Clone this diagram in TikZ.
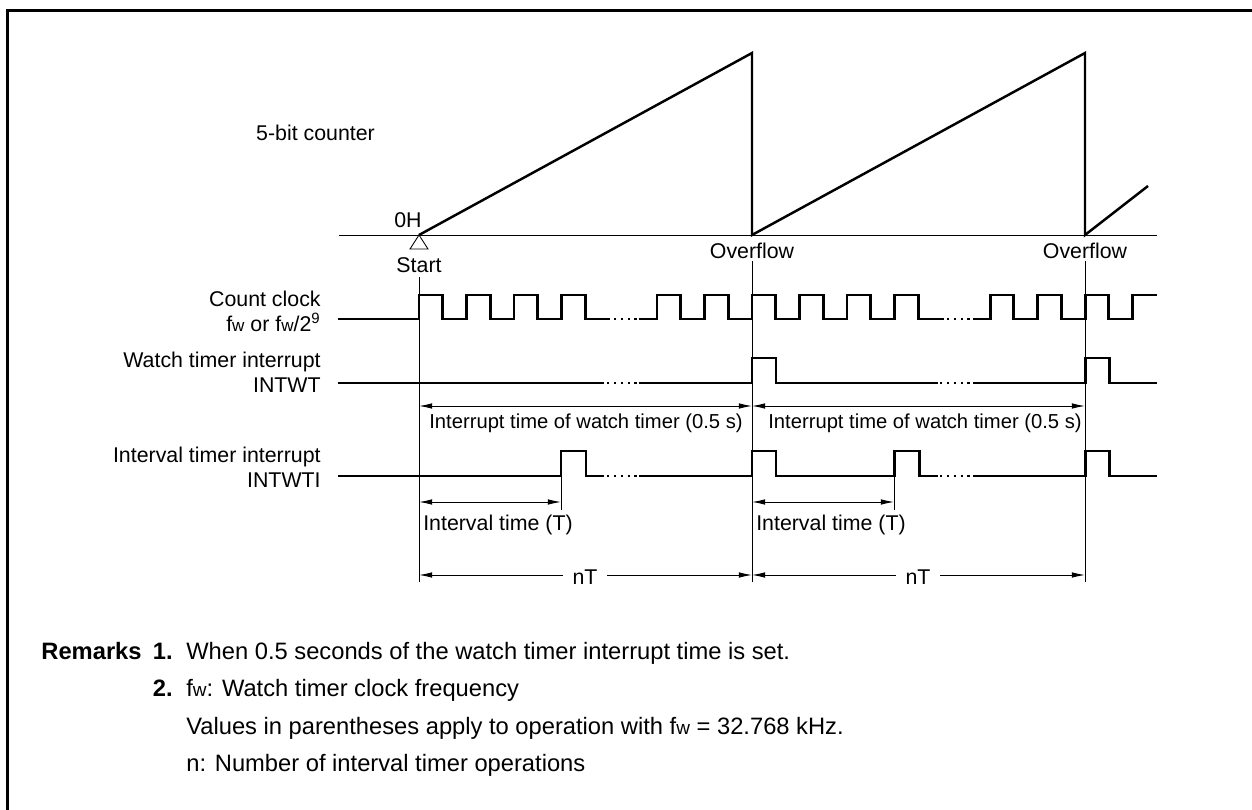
\documentclass[tikz,border=0pt]{standalone}
\usepackage{fontspec}
\usepackage{graphicx}
\setmainfont{Liberation Sans}
\usetikzlibrary{
	arrows.meta,
	positioning
}
\newcommand{\fw}{f\scalebox{0.8}{w}}

\tikzset{
	wave/.style={line width=1.7pt,line cap=rect},
	ramp/.style={line width=1.4pt},
	thin line/.style={line width=0.55pt},
	dim/.style={line width=0.55pt,{Latex[length=7.5pt,width=3.2pt]}-{Latex[length=7.5pt,width=3.2pt]}},
	dotline/.style={line width=1.1pt,dash pattern=on 1.3pt off 2.6pt},
	lbl/.style={inner sep=0pt,font=\fontsize{12.15pt}{14.2pt}\selectfont},
	narrow/.style={lbl,font=\fontsize{11.5pt}{14.2pt}\selectfont},
	sig/.style={lbl,align=right,anchor=east},
	remark/.style={inner sep=0pt,font=\fontsize{13.5pt}{16pt}\selectfont}
}

\begin{document}
\begin{tikzpicture}[x=0.02cm,y=-0.02cm]
		\useasboundingbox (0,0) rectangle (1252,810);
		
		% frame
		\draw[line width=1.7pt] (7.5,810) -- (7.5,10.5) -- (1252,10.5);
		
		% time marks
		\coordinate (st) at (419,235);
		\coordinate (of1) at (752,235);
		\coordinate (of2) at (1085,235);
		
		% counter
		\draw[thin line] (339,235) -- (1157,235);
		\draw[ramp] (st) -- (752,53) -- (of1) -- (1085,53) -- (of2) -- (1148,186);
		\draw[line width=0.5pt] (st) -- (410,249) -- (428,249) -- cycle;
		\node[lbl] (cnt) at (315.5,133) {5-bit counter};
		\node[lbl] (zero) at (408,220) {0H};
		\node[lbl] (start) at (419,265) {Start};
		\node[lbl] (ovf1) at (752,251) {Overflow};
		\node[lbl] (ovf2) at (1085,251) {Overflow};
		
		% count clock
		\node[sig] (clk) at (321,311) {Count clock\\\fw{} or \fw/2\textsuperscript{9}};
		\draw[wave] (339,319) -- (419,319);
		\foreach \x in {419,466.5,514,561.5,657,704.5,752,799.5,847,894.5,990,1037.5,1085}
		\draw[wave] (\x,319) -- (\x,295) -- ++(23.7,0) -- ++(0,24) -- ++(23.8,0);
		\draw[wave] (585.2,319) -- (603,319);
		\draw[wave] (640,319) -- (657,319);
		\draw[wave] (918.2,319) -- (936,319);
		\draw[wave] (974,319) -- (990,319);
		\draw[wave] (1132.5,319) -- (1132.5,295) -- (1155.5,295);
		
		% watch timer interrupt
		\node[sig] (wt) at (321,372) {Watch timer interrupt\\INTWT};
		\draw[wave] (339,383) -- (603,383);
		\draw[wave] (640,383) -- (752,383) -- (752,358) -- (776,358) -- (776,383) -- (936,383);
		\draw[wave] (974,383) -- (1085,383) -- (1085,358) -- (1109,358) -- (1109,383) -- (1155.5,383);
		
		% interval timer interrupt
		\node[sig] (wti) at (321,467) {Interval timer interrupt\\INTWTI};
		\draw[wave] (339,476) -- (561,476) -- (561,451) -- (586,451) -- (586,476) -- (603,476);
		\draw[wave] (640,476) -- (752,476) -- (752,451) -- (776,451) -- (776,476) -- (894,476) -- (894,451) -- (919,451) -- (919,476) -- (936,476);
		\draw[wave] (974,476) -- (1085,476) -- (1085,451) -- (1109,451) -- (1109,476) -- (1155.5,476);
		
		% dots
		\foreach \y in {319,383,476} {
			\draw[dotline] (607,\y) -- (637,\y);
			\draw[dotline] (940,\y) -- (970,\y);
		}
		
		% guide lines
		\draw[thin line] (419,277) -- (419,582);
		\draw[thin line] (752,261) -- (752,582);
		\draw[thin line] (1085,261) -- (1085,582);
		\draw[thin line] (561,476) -- (561,510);
		\draw[thin line] (894,476) -- (894,510);
		
		% interrupt time
		\coordinate (ia) at (419,406);
		\coordinate (ib) at (752,406);
		\coordinate (ic) at (1085,406);
		\draw[dim] (ia) -- (ib);
		\draw[dim] (ib) -- (ic);
		\node[narrow] (it1) at (586,423) {Interrupt time of watch timer (0.5 s)};
		\node[narrow] (it2) at (925,423) {Interrupt time of watch timer (0.5 s)};
		
		% interval time
		\coordinate (ta) at (419,502);
		\coordinate (tb) at (561,502);
		\coordinate (tc) at (752,502);
		\coordinate (td) at (894,502);
		\draw[dim] (ta) -- (tb);
		\draw[dim] (tc) -- (td);
		\node[lbl] (tt1) at (498,525) {Interval time (T)};
		\node[lbl] (tt2) at (831,525) {Interval time (T)};
		
		% nT
		\coordinate (na) at (419,575);
		\coordinate (nb) at (752,575);
		\coordinate (nc) at (1085,575);
		\node[lbl,inner xsep=5.4pt] (nt1) at (585,577) {nT};
		\node[lbl,inner xsep=5.4pt] (nt2) at (918,577) {nT};
		\draw[thin line,{Latex[length=7.5pt,width=3.2pt]}-] (na) -- (nt1.west |- na);
		\draw[thin line,-{Latex[length=7.5pt,width=3.2pt]}] (nt1.east |- nb) -- (nb);
		\draw[thin line,{Latex[length=7.5pt,width=3.2pt]}-] (nb) -- (nt2.west |- nb);
		\draw[thin line,-{Latex[length=7.5pt,width=3.2pt]}] (nt2.east |- nc) -- (nc);
		
		% remarks
		\node[remark,anchor=base east] (rem) at (142,660) {\bfseries Remarks};
		\node[remark,anchor=base east] (rem1) at (173,660) {\bfseries 1.};
		\node[remark,anchor=base west] (r1) at (186,660) {When 0.5 seconds of the watch timer interrupt time is set.};
		\node[remark,anchor=base east] (rem2) at (173,697) {\bfseries 2.};
		\node[remark,anchor=base west] (r2) at (186,697) {\fw: Watch timer clock frequency};
		\node[remark,anchor=base west] (r3) at (186,735) {Values in parentheses apply to operation with \fw{} = 32.768 kHz.};
		\node[remark,anchor=base west] (r4) at (186,772) {n: Number of interval timer operations};
		
	\end{tikzpicture}
\end{document}
